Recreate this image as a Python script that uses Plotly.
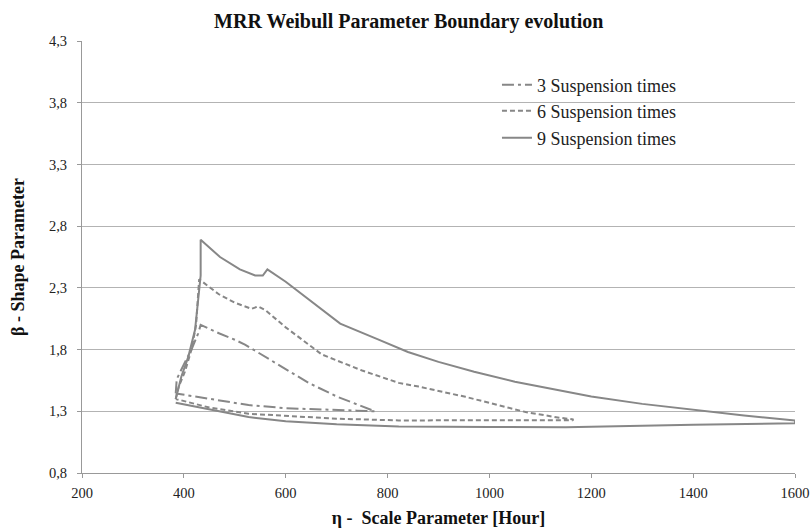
import plotly.graph_objects as go

# 3 Suspension times (closed boundary)
eta_3 = [384, 386, 400, 415, 428, 433, 470, 500, 520, 580, 645, 700, 775,
         740, 658, 600, 527, 450, 384]
beta_3 = [1.445, 1.56, 1.68, 1.80, 1.93, 2.00, 1.93, 1.88, 1.84, 1.69, 1.53, 1.42, 1.30,
          1.305, 1.315, 1.325, 1.35, 1.40, 1.445]

# 6 Suspension times
eta_6 = [384, 390, 402, 415, 424, 428, 430, 468, 500, 533, 546, 560, 600, 671, 750, 822, 861,
         953, 1071, 1137, 1165, 1163, 1000, 822, 700, 527, 450, 384]
beta_6 = [1.40, 1.50, 1.62, 1.80, 2.00, 2.20, 2.37, 2.25, 2.18, 2.13, 2.15, 2.12, 1.98, 1.76,
          1.63, 1.53, 1.50, 1.417, 1.294, 1.248, 1.234, 1.228, 1.225, 1.226, 1.24, 1.28, 1.33, 1.40]

# 9 Suspension times
eta_9 = [384, 395, 409, 422, 429, 433, 433, 471, 510, 540, 555, 564, 600, 650, 707, 780, 840,
         900, 970, 1050, 1200, 1300, 1400, 1500, 1600, 1600, 1400, 1150, 1000, 822, 700, 600,
         527, 450, 384]
beta_9 = [1.40, 1.58, 1.745, 1.96, 2.24, 2.40, 2.69, 2.55, 2.45, 2.40, 2.40, 2.45, 2.35, 2.19,
          2.01, 1.885, 1.78, 1.70, 1.62, 1.54, 1.42, 1.36, 1.31, 1.265, 1.226, 1.204, 1.19, 1.171,
          1.172, 1.177, 1.195, 1.22, 1.253, 1.315, 1.37]

series_names = ["3 Suspension times", "6 Suspension times", "9 Suspension times"]
y_ticks = [0.8, 1.3, 1.8, 2.3, 2.8, 3.3, 3.8, 4.3]
x_ticks = [200, 400, 600, 800, 1000, 1200, 1400, 1600]

color = "#878787"
font = "Times New Roman, Liberation Serif, serif"

fig = go.Figure()
fig.add_trace(go.Scatter(x=eta_3, y=beta_3, mode="lines", name=series_names[0],
                         line=dict(color=color, width=2, dash="12px,4px,3px,4px"), legend="legend"))
fig.add_trace(go.Scatter(x=eta_6, y=beta_6, mode="lines", name=series_names[1],
                         line=dict(color=color, width=2, dash="5px,3px"), legend="legend2"))
fig.add_trace(go.Scatter(x=eta_9, y=beta_9, mode="lines", name=series_names[2],
                         line=dict(color=color, width=2), legend="legend3"))

leg_common = dict(font=dict(family=font, size=18, color="#222"), bgcolor="rgba(0,0,0,0)",
                  xanchor="left", yanchor="middle", x=0.582)
fig.update_layout(
    width=811, height=532,
    margin=dict(l=82, r=16, t=41, b=59),
    paper_bgcolor="white", plot_bgcolor="white",
    separators=",.",
    showlegend=True,
    title=dict(text="<b>MRR Weibull Parameter Boundary evolution</b>", x=0.504, xanchor="center",
               y=0.9605, yanchor="middle", font=dict(family=font, size=20, color="#111")),
    legend=dict(**leg_common, y=(473 - 85) / 432),
    legend2=dict(**leg_common, y=(473 - 111) / 432),
    legend3=dict(**leg_common, y=(473 - 138) / 432),
    xaxis=dict(range=[200, 1600], tickvals=x_ticks, tickformat="d", showgrid=False,
               showline=True, linecolor="#999", linewidth=1, ticks="outside", ticklen=4,
               tickcolor="#999", zeroline=False, automargin=False, ticklabelstandoff=3,
               tickfont=dict(family=font, size=14.5, color="#222"),
               title=dict(text="<b>η -  Scale Parameter [Hour]</b>", standoff=10,
                          font=dict(family=font, size=18, color="#111"))),
    yaxis=dict(range=[0.8, 4.3], tickvals=y_ticks, tickformat=".1f", showgrid=True,
               gridcolor="#b3b3b3", gridwidth=1, showline=True, linecolor="#999", linewidth=1,
               ticks="outside", ticklen=4, tickcolor="#999", zeroline=False, automargin=False,
               ticklabelstandoff=7,
               tickfont=dict(family=font, size=14.5, color="#222"),
               title=dict(text="<b>β - Shape Parameter</b>", standoff=19,
                          font=dict(family=font, size=18, color="#111"))),
)

fig.write_html("out.html")
